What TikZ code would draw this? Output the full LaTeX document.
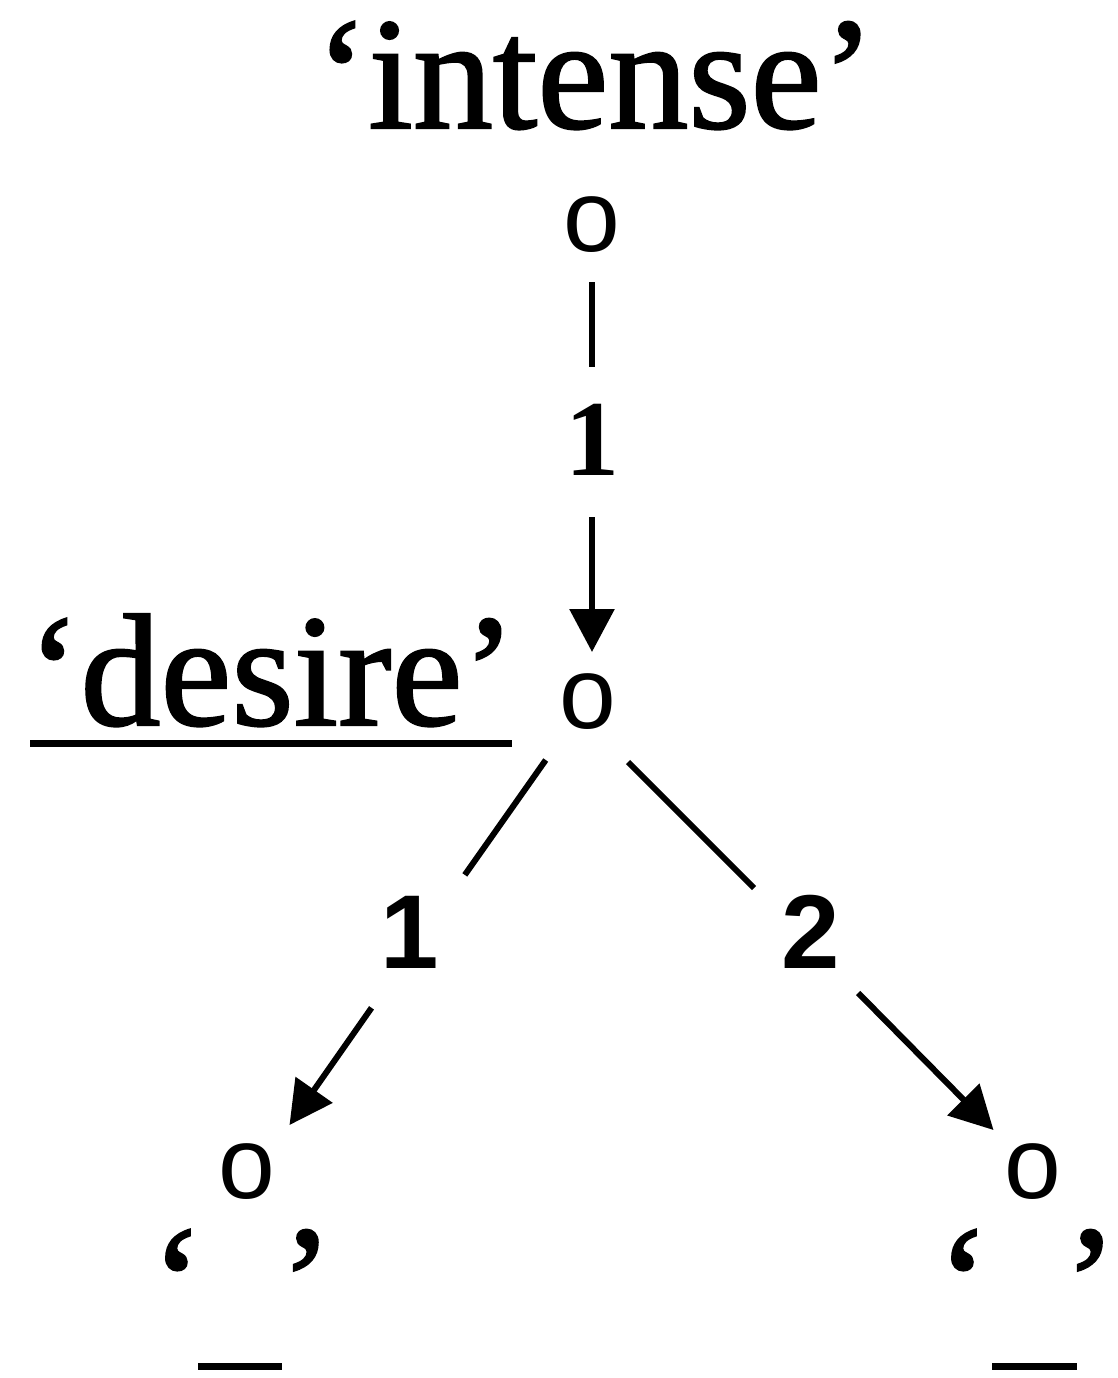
\documentclass[tikz,border=0pt]{standalone}
\usepackage{fontspec}
\setmainfont{Liberation Serif}[FakeBold=1.3]
\newfontfamily\serifbf{Liberation Serif Bold}
\newfontfamily\arialf{Liberation Sans}
\usetikzlibrary{arrows.meta}
\tikzset{
  word/.style={inner sep=0pt, font=\fontsize{160}{160}\selectfont},
  onode/.style={inner sep=0pt, text height=56pt, text depth=0pt, font=\arialf\fontsize{102}{102}\selectfont},
  serifnum/.style={inner sep=0pt, text height=75pt, text depth=0pt, font=\serifbf\fontsize{108}{108}\selectfont},
  sansnum/.style={inner sep=0pt, text height=75pt, text depth=0pt, font=\arialf\bfseries\fontsize{105}{105}\selectfont},
  edge/.style={line width=6pt},
  arr/.style={line width=6pt, -{Triangle[length=43pt,width=44pt]}},
  rule/.style={line width=7pt}
}
\begin{document}
\begin{tikzpicture}[x=1pt,y=-1pt]
\useasboundingbox (0,0) rectangle (1117,1378);
% nodes
\node[word, anchor=base] (intense) at (595,128) {‘intense’};
\node[onode] (o1) at (592,223) {o};
\node[serifnum] (n1) at (592,438) {1};
\node[onode] (o2) at (588,700) {o};
\node[word, anchor=base west] (desire) at (27,725) {‘desire’};
\node[sansnum] (n2) at (410,931) {1};
\node[sansnum] (n3) at (811,931) {2};
\coordinate (m2) at (426,930);
\coordinate (m3) at (796,930);
\node[onode] (o3) at (247,1170) {o};
\node[onode] (o4) at (1033,1170) {o};
\node[word, anchor=base] (q3) at (242,1336) {\kern-12pt‘\hspace{76pt}’\kern-12pt};
\node[word, anchor=base] (q4) at (1027,1336) {\kern-12pt‘\hspace{74pt}’\kern-12pt};
\coordinate (b3) at (240,1366);
\coordinate (b4) at (1034.5,1366);
% underline of desire
\draw[rule] (desire.west |- 0,743) ++(3,0) coordinate (u1) -- (512,743) coordinate (u2);
% connectors
\draw[edge, shorten <=59pt, shorten >=71pt] (o1.center) -- (n1.center);
\draw[arr, shorten <=79pt, shorten >=48pt] (n1.center) -- (n1 |- o2.center);
\draw[edge, shorten <=73.4pt, shorten >=67.4pt] (o2.center) -- (m2);
\draw[arr, shorten <=95pt, shorten >=54.9pt] (m2) -- ([xshift=11pt]o3.center);
\draw[edge, shorten <=87.7pt, shorten >=59.4pt] ([xshift=-22pt]o2.center) -- (m3);
\draw[arr, shorten <=88.5pt, shorten >=56.2pt] (m3) -- (o4.center);
% blanks
\draw[rule] ([xshift=-42pt]b3) -- ([xshift=42pt]b3);
\draw[rule] ([xshift=-42.5pt]b4) -- ([xshift=42.5pt]b4);
\end{tikzpicture}
\end{document}
